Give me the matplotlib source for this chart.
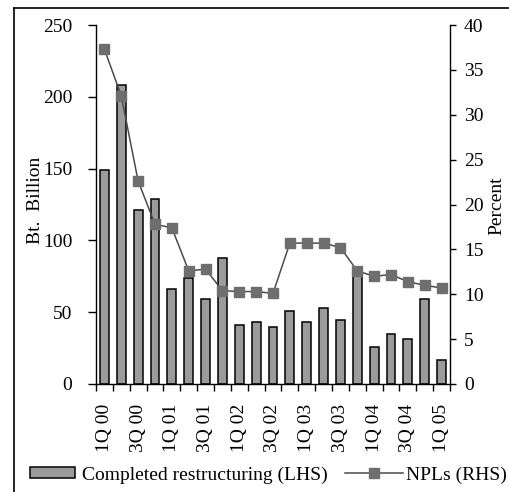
import matplotlib
matplotlib.use("Agg")
import matplotlib.pyplot as plt
from matplotlib.lines import Line2D
from matplotlib.patches import Patch
import numpy as np

plt.rcParams['font.family'] = ['Liberation Serif', 'DejaVu Serif']

quarters = ["1Q 00", "2Q 00", "3Q 00", "4Q 00", "1Q 01", "2Q 01", "3Q 01", "4Q 01",
            "1Q 02", "2Q 02", "3Q 02", "4Q 02", "1Q 03", "2Q 03", "3Q 03", "4Q 03",
            "1Q 04", "2Q 04", "3Q 04", "4Q 04", "1Q 05"]
restructuring = [149, 208, 121, 129, 66, 74, 59, 88, 41, 43.5, 40, 50.5, 43.5, 53, 44.5,
                 75, 25.5, 35, 31, 59.5, 16.8]
npls = [37.3, 32.1, 22.6, 17.8, 17.4, 12.6, 12.8, 10.4, 10.3, 10.3, 10.1, 15.7, 15.7,
        15.7, 15.2, 12.6, 12.0, 12.2, 11.4, 11.0, 10.7]

FS = 14
BAR_COLOR = '#9b9b9b'
LINE_COLOR = '#4a4a4a'
MARKER_COLOR = '#6e6e6e'

W, H = 510, 492
fig = plt.figure(figsize=(W / 100, H / 100), dpi=100)
ax = fig.add_axes([96 / W, 1 - 384 / H, (450 - 96) / W, (384 - 25) / H])
ax2 = ax.twinx()

x = np.arange(len(quarters))
ax.bar(x, restructuring, width=0.52, color=BAR_COLOR, edgecolor='black', linewidth=1.1, zorder=2)
ax2.plot(x, npls, color=LINE_COLOR, linewidth=1.1, marker='s', markersize=7,
         markerfacecolor=MARKER_COLOR, markeredgecolor=MARKER_COLOR, zorder=3)

ax.set_xlim(-0.5, len(quarters) - 0.5)
ax.set_ylim(0, 250)
ax2.set_ylim(0, 40)
ax.set_yticks(range(0, 251, 50))
ax2.set_yticks(range(0, 41, 5))

# category boundaries carry the tick marks, labels on every other quarter
ax.set_xticks(np.arange(-0.5, len(quarters), 1.0))
ax.set_xticklabels([])
ax.set_xticks(x[::2], minor=True)
ax.set_xticklabels(quarters[::2], minor=True, rotation=90, fontsize=FS)
ax.tick_params(axis='x', which='major', direction='out', length=5, width=1)
ax.tick_params(axis='x', which='minor', length=0, pad=14)
ax.tick_params(axis='y', direction='out', length=6, width=1, labelsize=FS, pad=11)
ax2.tick_params(axis='y', direction='out', length=4, width=1, labelsize=FS, pad=6)

for a in (ax, ax2):
    a.spines['top'].set_visible(False)
    for s in ('left', 'right', 'bottom'):
        a.spines[s].set_linewidth(1.0)
ax.spines['right'].set_visible(False)
ax2.spines['left'].set_visible(False)
ax2.spines['bottom'].set_visible(False)

ax.set_ylabel("Bt.  Billion", fontsize=FS)
ax2.set_ylabel("Percent", fontsize=FS)
ax.yaxis.set_label_coords(44 / W, 1 - 200 / H, transform=fig.transFigure)
ax2.yaxis.set_label_coords(488 / W, 1 - 206 / H, transform=fig.transFigure)

# legend
bar_handle = Patch(facecolor=BAR_COLOR, edgecolor='black', linewidth=1.1)
line_handle = Line2D([], [], color=LINE_COLOR, linewidth=1.1, marker='s', markersize=7,
                     markerfacecolor=MARKER_COLOR, markeredgecolor=MARKER_COLOR)
fig.legend([bar_handle], ["Completed restructuring (LHS)"], loc='center left',
           bbox_to_anchor=(30 / W, 1 - 475 / H), frameon=False, fontsize=FS,
           handlelength=2.3, handleheight=0.5, handletextpad=0.4,
           borderpad=0, borderaxespad=0)
fig.legend([line_handle], ["NPLs (RHS)"], loc='center left',
           bbox_to_anchor=(345 / W, 1 - 475 / H), frameon=False, fontsize=FS,
           handlelength=3.0, handletextpad=0.15, borderpad=0, borderaxespad=0)

# partial frame around the figure
fig.add_artist(Line2D([14 / W, 14 / W], [0, 1 - 8 / H], color='black', linewidth=1.2,
                      transform=fig.transFigure))
fig.add_artist(Line2D([14 / W, 1], [1 - 8 / H, 1 - 8 / H], color='black', linewidth=1.2,
                      transform=fig.transFigure))

fig.savefig("out.png", dpi=100)
